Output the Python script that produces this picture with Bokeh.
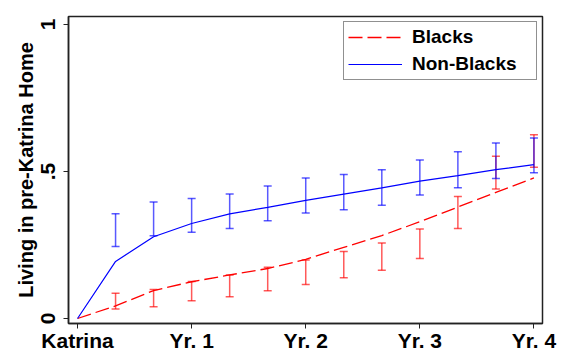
import math
from bokeh.plotting import figure
from bokeh.models import Range1d, FixedTicker, ColumnDataSource, Whisker, TeeHead
from bokeh.embed import file_html
from bokeh.resources import INLINE

# data (months since Katrina)
line_months = [0, 4, 8, 12, 16, 20, 24, 28, 32, 36, 40, 44, 48]
blacks_line = [0, 0.043, 0.095, 0.125, 0.148, 0.170, 0.201, 0.242, 0.282, 0.329, 0.379, 0.429, 0.478]
nonblacks_line = [0, 0.194, 0.278, 0.323, 0.356, 0.378, 0.402, 0.423, 0.444, 0.467, 0.486, 0.506, 0.523]

ci_months = [4, 8, 12, 16, 20, 24, 28, 32, 36, 40, 44, 48]
blacks_lo = [0.032, 0.040, 0.060, 0.074, 0.094, 0.116, 0.139, 0.164, 0.204, 0.306, 0.440, 0.514]
blacks_hi = [0.086, 0.099, 0.126, 0.148, 0.174, 0.199, 0.228, 0.257, 0.304, 0.415, 0.552, 0.625]
nonblacks_lo = [0.245, 0.281, 0.293, 0.306, 0.332, 0.359, 0.370, 0.385, 0.420, 0.445, 0.476, 0.496]
nonblacks_hi = [0.356, 0.396, 0.408, 0.423, 0.451, 0.478, 0.490, 0.506, 0.539, 0.567, 0.597, 0.614]

x_ticks = [0, 12, 24, 36, 48]
x_labels = ["Katrina", "Yr. 1", "Yr. 2", "Yr. 3", "Yr. 4"]
y_ticks = [0, 0.5, 1]
y_labels = ["0", ".5", "1"]

FONT = "Liberation Sans"
RED = "#FF0000"
BLUE = "#0000FF"

p = figure(width=565, height=354, output_backend="svg", toolbar_location=None,
           x_range=Range1d(-0.95, 48.9), y_range=Range1d(-0.017, 1.027),
           min_border_left=68, min_border_right=23, min_border_top=16, min_border_bottom=25)
p.background_fill_color = "white"
p.border_fill_color = "white"
p.outline_line_color = "#222222"
p.outline_line_width = 1.5
p.xgrid.visible = False
p.ygrid.visible = False

# lines
p.line(line_months, blacks_line, line_color=RED, line_width=1.3, line_dash="14 5", legend_label="Blacks")
p.line(line_months, nonblacks_line, line_color=BLUE, line_width=1.2, legend_label="Non-Blacks")

# error bars
for lo, hi, col in [(blacks_lo, blacks_hi, RED), (nonblacks_lo, nonblacks_hi, BLUE)]:
    src = ColumnDataSource(dict(x=ci_months, lo=lo, hi=hi))
    w = Whisker(base="x", lower="lo", upper="hi", source=src, line_color=col, line_width=1.5, line_alpha=0.65,
                upper_head=TeeHead(size=8, line_color=col, line_width=1.5, line_alpha=0.65),
                lower_head=TeeHead(size=8, line_color=col, line_width=1.5, line_alpha=0.65))
    p.add_layout(w)

# axes
for ax in (p.xaxis[0], p.yaxis[0]):
    ax.minor_tick_line_color = None
    ax.axis_line_color = "#222222"
    ax.axis_line_width = 1.5
    ax.major_tick_line_color = "#222222"
    ax.major_tick_line_width = 1
    ax.major_tick_out = 5
    ax.major_tick_in = 0
    ax.major_label_text_font = FONT
    ax.major_label_text_font_style = "bold"
    ax.major_label_text_font_size = "21px"
    ax.major_label_text_color = "black"

p.xaxis.ticker = FixedTicker(ticks=x_ticks)
p.xaxis.major_label_overrides = {t: l for t, l in zip(x_ticks, x_labels)}
p.xaxis.major_label_standoff = 0
p.xaxis.major_label_text_line_height = 1.0

p.yaxis.ticker = FixedTicker(ticks=y_ticks)
p.yaxis.major_label_overrides = {t: l for t, l in zip(y_ticks, y_labels)}
p.yaxis.major_label_orientation = "vertical"
p.yaxis.major_label_standoff = 8
p.yaxis.axis_label = "Living in pre-Katrina Home"
p.yaxis.axis_label_text_font = FONT
p.yaxis.axis_label_text_font_style = "bold"
p.yaxis.axis_label_text_font_size = "20px"
p.yaxis.axis_label_text_color = "black"
p.yaxis.axis_label_standoff = 2

# legend
lg = p.legend[0]
lg.location = "top_right"
lg.margin = 5
lg.padding = 4
lg.spacing = 5
lg.glyph_width = 54
lg.glyph_height = 20
lg.label_height = 20
lg.label_width = 120
lg.label_standoff = 10
lg.label_text_font = FONT
lg.label_text_font_style = "bold"
lg.label_text_font_size = "19px"
lg.label_text_color = "black"
lg.border_line_color = "#222222"
lg.border_line_width = 1
lg.background_fill_color = "white"
lg.background_fill_alpha = 1

open("out.html", "w").write(file_html(p, INLINE))
